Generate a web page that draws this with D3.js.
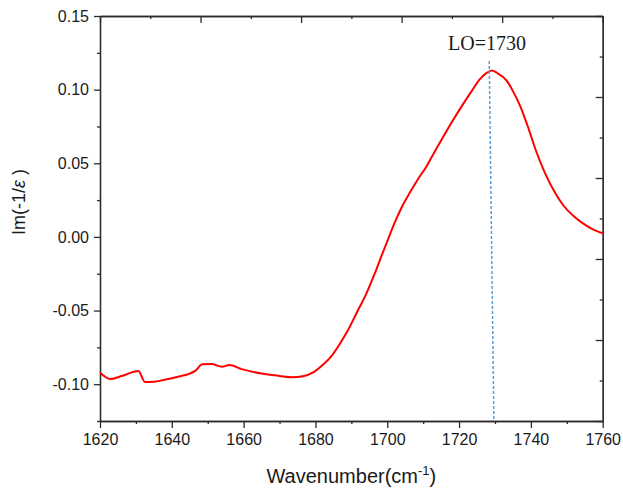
<!DOCTYPE html>
<html>
<head>
<meta charset="utf-8">
<script src="https://cdn.jsdelivr.net/npm/d3@7"></script>
<style>
  body { margin: 0; background: #fff; }
  svg { display: block; }
</style>
</head>
<body>
<svg width="623" height="488"></svg>
<script>
// Data.
const wavenumber = [1620, 1622.8, 1626, 1630.7, 1632.5, 1635, 1638, 1642, 1645, 1646.5,
                    1648.5, 1651, 1654, 1656, 1659.5, 1665, 1670, 1673.5, 1676.5, 1679.5,
                    1682, 1684.5, 1687, 1689, 1691.5, 1694.3, 1696.5, 1698.4, 1700, 1702.1,
                    1704, 1706.3, 1708.5, 1711, 1713, 1715.2, 1718, 1721.2, 1723.5, 1725.8,
                    1727.5, 1729.1, 1730.5, 1733.3, 1735, 1737, 1739, 1741.6, 1744, 1746.7,
                    1749, 1751.8, 1754, 1757, 1760];
const imInvEps = [-0.0921, -0.0965, -0.0945, -0.0910, -0.0985, -0.0983, -0.0970, -0.0948, -0.0928, -0.0910,
                  -0.0864, -0.0863, -0.0882, -0.0870, -0.0898, -0.0928, -0.0944, -0.0953, -0.0946, -0.0918,
                  -0.0870, -0.0808, -0.0718, -0.0636, -0.0515, -0.0378, -0.0250, -0.0129, -0.0030, 0.0098,
                  0.0200, 0.0301, 0.0390, 0.0482, 0.0570, 0.0663, 0.0780, 0.0905, 0.0990, 0.1071,
                  0.1110, 0.1130, 0.1115, 0.1059, 0.0990, 0.0890, 0.0760, 0.0573, 0.0430, 0.0301,
                  0.0215, 0.0143, 0.0100, 0.0055, 0.0025];

// LO marker line (x, y) ends and label
const loLine = [[1728.4, 0.1195], [1729.7, -0.125]];
const loLabel = "LO=1730";

const xLims = [1620, 1760];
const yLims = [-0.125, 0.15];
const xMajor = [1620, 1640, 1660, 1680, 1700, 1720, 1740, 1760];
const xMinor = [1630, 1650, 1670, 1690, 1710, 1730, 1750];
const yMajor = [-0.10, -0.05, 0.00, 0.05, 0.10, 0.15];
const yMinor = [-0.125, -0.075, -0.025, 0.025, 0.075, 0.125];

// SVG plotting related variables.
const svg = d3.select("svg");
const margin = { top: 16, right: 20.3, bottom: 67, left: 100 };
const width = +svg.attr("width");
const height = +svg.attr("height");
const plotRight = width - margin.right;
const plotBottom = height - margin.bottom;

const xScale = d3.scaleLinear().domain(xLims).range([margin.left, plotRight]);
const yScale = d3.scaleLinear().domain(yLims).range([plotBottom, margin.top]);

// top and right frame carry their own evenly spaced ticks
const topScale = d3.scaleLinear().domain([0, 5]).range([margin.left, plotRight]);
const rightScale = d3.scaleLinear().domain([0, 5]).range([plotBottom, margin.top]);

const axisColor = "#2b2b2b";
const fmt = d => d3.format(".2f")(d).replace("\u2212", "-");

function styleAxis(sel) {
  sel.selectAll("path, line").attr("stroke", axisColor).attr("stroke-width", 1.3);
  sel.selectAll("text")
     .style("font-family", "Liberation Sans, Arial, sans-serif")
     .style("font-size", "16px")
     .attr("fill", "#1a1a1a");
}

// Bottom axis
svg.append("g")
   .attr("transform", `translate(0,${plotBottom})`)
   .call(d3.axisBottom(xScale).tickValues(xMinor).tickSize(3).tickSizeOuter(0).tickFormat(""))
   .call(styleAxis);
svg.append("g")
   .attr("transform", `translate(0,${plotBottom})`)
   .call(d3.axisBottom(xScale).tickValues(xMajor).tickSize(7).tickSizeOuter(0).tickPadding(6).tickFormat(d3.format("d")))
   .call(styleAxis);

// Left axis
svg.append("g")
   .attr("transform", `translate(${margin.left},0)`)
   .call(d3.axisLeft(yScale).tickValues(yMinor).tickSize(3).tickSizeOuter(0).tickFormat(""))
   .call(styleAxis);
svg.append("g")
   .attr("transform", `translate(${margin.left},0)`)
   .call(d3.axisLeft(yScale).tickValues(yMajor).tickSize(6).tickSizeOuter(0).tickPadding(5).tickFormat(fmt))
   .call(styleAxis);

// Top axis (ticks inward)
svg.append("g")
   .attr("transform", `translate(0,${margin.top})`)
   .call(d3.axisBottom(topScale).tickValues(d3.range(0.5, 5, 1)).tickSize(3).tickSizeOuter(0).tickFormat(""))
   .call(styleAxis);
svg.append("g")
   .attr("transform", `translate(0,${margin.top})`)
   .call(d3.axisBottom(topScale).tickValues(d3.range(0, 6, 1)).tickSize(7).tickSizeOuter(0).tickFormat(""))
   .call(styleAxis);

// Right axis (ticks inward)
svg.append("g")
   .attr("transform", `translate(${plotRight},0)`)
   .call(d3.axisLeft(rightScale).tickValues(d3.range(0.5, 5, 1)).tickSize(3).tickSizeOuter(0).tickFormat(""))
   .call(styleAxis);
svg.append("g")
   .attr("transform", `translate(${plotRight},0)`)
   .call(d3.axisLeft(rightScale).tickValues(d3.range(0, 6, 1)).tickSize(7).tickSizeOuter(0).tickFormat(""))
   .call(styleAxis);

// Spectrum
const line = d3.line().x(d => xScale(d[0])).y(d => yScale(d[1]));
svg.append("path")
   .datum(d3.zip(wavenumber, imInvEps))
   .attr("fill", "none")
   .attr("stroke", "#ff0000")
   .attr("stroke-width", 2)
   .attr("stroke-linejoin", "round")
   .attr("d", line.curve(d3.curveMonotoneX));

// LO marker
svg.append("path")
   .datum(loLine)
   .attr("fill", "none")
   .attr("stroke", "#5b9bd5")
   .attr("stroke-width", 1.5)
   .attr("stroke-dasharray", "3,2")
   .attr("d", d3.line().x(d => xScale(d[0])).y(d => yScale(d[1])));

svg.append("text")
   .attr("x", xScale(1730) - 8)
   .attr("y", 50)
   .attr("text-anchor", "middle")
   .style("font-family", "Liberation Serif, Times New Roman, serif")
   .style("font-size", "20px")
   .attr("fill", "#1a1a1a")
   .text(loLabel);

// X axis title
const xTitle = svg.append("text")
   .attr("x", (margin.left + plotRight) / 2)
   .attr("y", 483)
   .attr("text-anchor", "middle")
   .style("font-family", "Liberation Sans, Arial, sans-serif")
   .style("font-size", "20px")
   .attr("fill", "#1a1a1a");
xTitle.append("tspan").text("Wavenumber(cm");
xTitle.append("tspan").attr("dy", -8).style("font-size", "13px").text("-1");
xTitle.append("tspan").attr("dy", 8).text(")");

// Y axis title
const yTitle = svg.append("text")
   .attr("transform", "translate(25,202) rotate(-90)")
   .attr("text-anchor", "middle")
   .style("font-family", "Liberation Sans, Arial, sans-serif")
   .style("font-size", "18px")
   .attr("fill", "#1a1a1a");
yTitle.append("tspan").text("Im(-1/");
yTitle.append("tspan").style("font-style", "italic").text("\u03b5");
yTitle.append("tspan").text(" )");
</script>
</body>
</html>
